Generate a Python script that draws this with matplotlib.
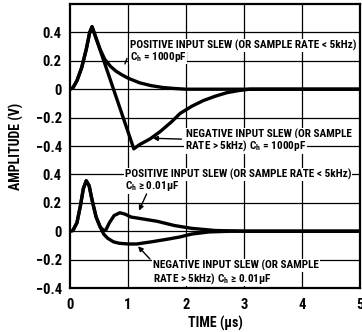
import matplotlib
matplotlib.use("Agg")
import matplotlib.pyplot as plt
from matplotlib import font_manager

# pick a narrow bold face if one is installed
fonts = font_manager.fontManager.ttflist
names = {f.name for f in fonts}
narrow = None
stretch = 'normal'
for cand in ['Liberation Sans Narrow', 'Roboto Condensed', 'Noto Sans Condensed', 'Open Sans Condensed', 'DejaVu Sans Condensed']:
    if cand in names:
        narrow = cand
        break
if narrow is None:
    for base in ['DejaVu Sans', 'Noto Sans', 'Open Sans', 'Roboto']:
        if any(f.name == base and f.stretch in ('condensed', 'semi-condensed', 'extra-condensed', 75, 87.5) for f in fonts):
            narrow = base
            stretch = 'condensed'
            break
if narrow is None:
    narrow = 'DejaVu Sans'

plt.rcParams['font.family'] = [narrow, 'DejaVu Sans']
plt.rcParams['font.weight'] = 'bold'
plt.rcParams['font.stretch'] = stretch
plt.rcParams['mathtext.fontset'] = 'custom'
plt.rcParams['mathtext.rm'] = narrow + ':bold'

# upper panel: C_h = 1000pF
t_pos_1000 = [0, 0.05, 0.12, 0.2, 0.28, 0.34, 0.38, 0.45, 0.52, 0.6, 0.7, 0.8, 0.9, 1.0, 1.2, 1.4, 1.6, 1.8, 2.0, 5.0]
v_pos_1000 = [0, 0.01, 0.06, 0.15, 0.28, 0.40, 0.44, 0.36, 0.28, 0.21, 0.16, 0.125, 0.1, 0.078, 0.045, 0.025, 0.012, 0.005, 0.0, 0.0]
t_neg_1000 = [0, 0.05, 0.12, 0.2, 0.28, 0.34, 0.38, 0.6, 0.8, 1.0, 1.1, 1.2, 1.38, 1.55, 1.75, 1.9, 2.1, 2.3, 2.5, 2.7, 2.9, 3.1, 5.0]
v_neg_1000 = [0, 0.01, 0.06, 0.15, 0.28, 0.40, 0.44, 0.18, -0.06, -0.30, -0.42, -0.39, -0.35, -0.30, -0.23, -0.17, -0.12, -0.08, -0.05, -0.025, -0.01, 0.0, 0.0]

# lower panel: C_h >= 0.01uF
t_pos_001 = [0, 0.05, 0.12, 0.18, 0.23, 0.28, 0.33, 0.38, 0.45, 0.52, 0.58, 0.62, 0.68, 0.76, 0.86, 0.95, 1.05, 1.2, 1.5, 1.8, 2.1, 2.5, 3.0, 5.0]
v_pos_001 = [0, 0.005, 0.06, 0.18, 0.30, 0.355, 0.32, 0.22, 0.10, 0.03, 0.005, 0.01, 0.06, 0.11, 0.13, 0.12, 0.10, 0.09, 0.07, 0.04, 0.02, 0.005, 0.0, 0.0]
t_neg_001 = [0, 0.05, 0.12, 0.18, 0.23, 0.28, 0.33, 0.38, 0.45, 0.52, 0.58, 0.65, 0.75, 0.85, 1.0, 1.15, 1.4, 1.7, 1.9, 2.1, 2.4, 2.8, 5.0]
v_neg_001 = [0, 0.005, 0.06, 0.18, 0.30, 0.355, 0.32, 0.22, 0.10, 0.03, -0.02, -0.05, -0.075, -0.085, -0.09, -0.09, -0.075, -0.055, -0.04, -0.02, -0.005, 0.0, 0.0]

ytick_labels = ['\u22120.4', '\u22120.2', '0', '0.2', '0.4']
xticks = [0, 1, 2, 3, 4, 5]
upper_offset = 1.0

pos_text = 'POSITIVE INPUT SLEW (OR SAMPLE RATE < 5kHz)'
neg_text = 'NEGATIVE INPUT SLEW (OR SAMPLE'

fig = plt.figure(figsize=(3.62, 3.32), dpi=100)
ax = fig.add_axes([70/362, 44/332, 290/362, 284/332])

# font size so the long label spans about 227 px, as in the original
probe = fig.text(0, 0, pos_text, fontsize=10)
r = fig.canvas.get_renderer()
w = probe.get_window_extent(r).width
probe.remove()
fs = min(8.6, 10 * 227 / w)

lw = 2.4
ax.plot(t_pos_1000, [v + upper_offset for v in v_pos_1000], color='black', lw=lw, zorder=3)
ax.plot(t_neg_1000, [v + upper_offset for v in v_neg_1000], color='black', lw=lw, zorder=3)
ax.plot(t_pos_001, v_pos_001, color='black', lw=lw, zorder=3)
ax.plot(t_neg_001, v_neg_001, color='black', lw=lw, zorder=3)

ax.set_xlim(0, 5)
ax.set_ylim(-0.4, 1.6)

low_ticks = [-0.4, -0.2, 0, 0.2, 0.4]
yt = low_ticks + [v + upper_offset for v in low_ticks]
ax.set_yticks(yt)
ax.set_yticklabels(ytick_labels + ytick_labels)
ax.set_xticks(xticks)
ax.set_xticklabels([str(x) for x in xticks])
ax.tick_params(length=0, labelsize=10.5, pad=6)
ax.tick_params(axis='x', pad=7)

for y in yt[1:]:
    ax.axhline(y, color='black', lw=0.9, zorder=1)
for x in xticks[1:-1]:
    ax.axvline(x, color='black', lw=0.9, zorder=1)
for s in ax.spines.values():
    s.set_linewidth(1.6)

ax.set_ylabel('AMPLITUDE (V)', fontsize=10, fontweight='bold')
ax.yaxis.set_label_coords(-0.16, 0.5)
ax.set_xlabel('TIME (\u00b5s)', fontsize=10, fontweight='bold')
ax.xaxis.set_label_coords(0.5, -0.1)

box = dict(facecolor='white', edgecolor='none', pad=0.6)
def label(x, y, s):
    ax.text(x, y, s, fontsize=fs, ha='left', va='center', bbox=box, zorder=4)

label(1.03, 1.31, pos_text)
label(1.03, 1.23, 'C$_{\\mathregular{h}}$ = 1000pF')
label(2.0, 0.683, neg_text)
label(1.98, 0.60, 'RATE > 5kHz) C$_{\\mathregular{h}}$ = 1000pF')
label(0.95, 0.40, pos_text)
label(0.95, 0.317, 'C$_{\\mathregular{h}}$ \u2265 0.01\u00b5F')
label(1.43, -0.24, neg_text)
label(1.43, -0.33, 'RATE > 5kHz) C$_{\\mathregular{h}}$ \u2265 0.01\u00b5F')

arrow = dict(arrowstyle='-|>', color='black', lw=1.0, mutation_scale=7)
ax.annotate('', xy=(0.93, 1.16), xytext=(1.0, 1.235), arrowprops=dict(arrowstyle='-', color='black', lw=1.0), zorder=5)
ax.annotate('', xy=(1.38, 0.655), xytext=(1.97, 0.648), arrowprops=arrow, zorder=5)
ax.annotate('', xy=(1.17, 0.127), xytext=(1.34, 0.28), arrowprops=arrow, zorder=5)
ax.annotate('', xy=(1.14, -0.092), xytext=(1.41, -0.21), arrowprops=arrow, zorder=5)

fig.savefig('out.png', dpi=100)
